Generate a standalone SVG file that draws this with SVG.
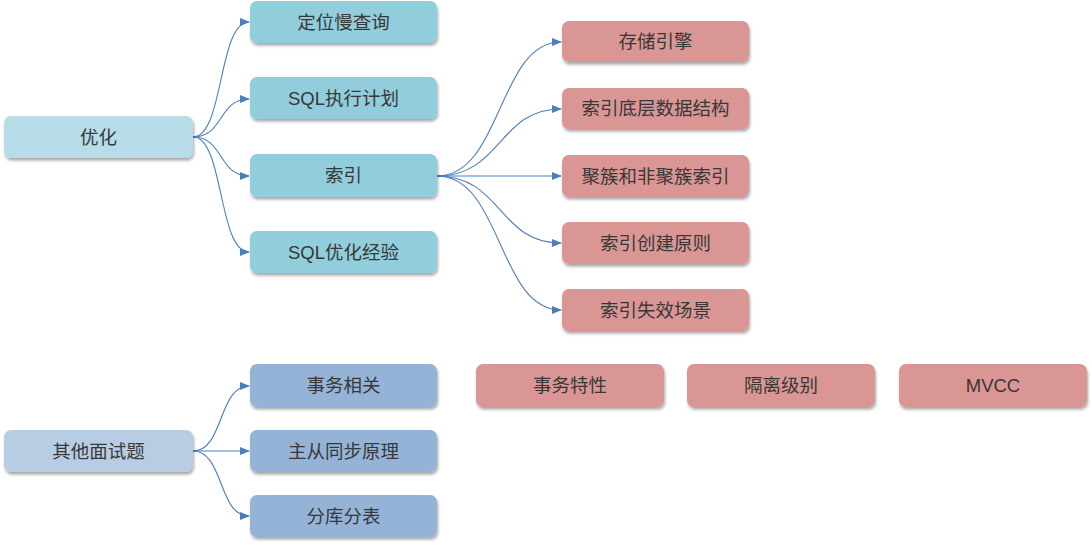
<svg xmlns="http://www.w3.org/2000/svg" width="1092" height="545" viewBox="0 0 1092 545">
<style>
.n{stroke:none;filter:url(#sh)}
.root1{fill:#b6dde8}
.l2{fill:#92cddc}
.red{fill:#d99694}
.root2{fill:#b8cce4}
.l2b{fill:#95b3d7}
text{font-family:"Liberation Sans","Noto Sans CJK SC",sans-serif;font-size:18.5px;fill:#383838;text-anchor:middle;dominant-baseline:central}
.c path{fill:none;stroke:#4a7ebb;stroke-width:1.1;marker-end:url(#ah)}
</style>
<defs>
<filter id="sh" x="-10%" y="-20%" width="120%" height="150%">
<feDropShadow dx="1" dy="2.5" stdDeviation="1.5" flood-color="#000" flood-opacity="0.35"/>
</filter>
<marker id="ah" markerWidth="10" markerHeight="8" refX="9" refY="4" orient="auto" markerUnits="userSpaceOnUse">
<path d="M0,0 L10,4 L0,8 Z" fill="#4a7ebb"/>
</marker>
</defs>
<g class="c" id="connectors">
<path d="M193,137 C224,137 218,22 249,22"/>
<path d="M193,137 C224,137 218,99 249,99"/>
<path d="M193,137 C224,137 218,176 249,176"/>
<path d="M193,137 C224,137 218,252 249,252"/>
<path d="M437,176 C502,176 498,42 561,42"/>
<path d="M437,176 C502,176 498,109 561,109"/>
<path d="M437,176 L561,176"/>
<path d="M437,176 C502,176 498,243 561,243"/>
<path d="M437,176 C502,176 498,310 561,310"/>
<path d="M193,451 C224,451 218,386 249,386"/>
<path d="M193,451 L249,451"/>
<path d="M193,451 C224,451 218,516 249,516"/>
</g>
<g id="n-youhua"><rect class="n root1" x="4" y="116" width="189" height="42" rx="7"/><text x="98.5" y="137">优化</text></g>
<g id="n-dingwei"><rect class="n l2" x="250" y="1" width="187" height="42" rx="7"/><text x="343.5" y="22">定位慢查询</text></g>
<g id="n-sqlplan"><rect class="n l2" x="250" y="77" width="187" height="42" rx="7"/><text x="343.5" y="98">SQL执行计划</text></g>
<g id="n-suoyin"><rect class="n l2" x="250" y="154" width="187" height="43" rx="7"/><text x="343.5" y="175.5">索引</text></g>
<g id="n-sqlopt"><rect class="n l2" x="250" y="231" width="187" height="42" rx="7"/><text x="343.5" y="252">SQL优化经验</text></g>
<g id="n-engine"><rect class="n red" x="562" y="21" width="187" height="41" rx="7"/><text x="655.5" y="41.5">存储引擎</text></g>
<g id="n-struct"><rect class="n red" x="562" y="88" width="187" height="41" rx="7"/><text x="655.5" y="108.5">索引底层数据结构</text></g>
<g id="n-cluster"><rect class="n red" x="562" y="155" width="187" height="42" rx="7"/><text x="655.5" y="176">聚簇和非聚簇索引</text></g>
<g id="n-create"><rect class="n red" x="562" y="222" width="187" height="42" rx="7"/><text x="655.5" y="243">索引创建原则</text></g>
<g id="n-invalid"><rect class="n red" x="562" y="289" width="187" height="42" rx="7"/><text x="655.5" y="310">索引失效场景</text></g>
<g id="n-other"><rect class="n root2" x="4" y="430" width="189" height="42" rx="7"/><text x="98.5" y="451">其他面试题</text></g>
<g id="n-tx"><rect class="n l2b" x="250" y="364" width="187" height="43" rx="7"/><text x="343.5" y="385.5">事务相关</text></g>
<g id="n-repl"><rect class="n l2b" x="250" y="430" width="187" height="42" rx="7"/><text x="343.5" y="451">主从同步原理</text></g>
<g id="n-shard"><rect class="n l2b" x="250" y="495" width="187" height="42" rx="7"/><text x="343.5" y="516">分库分表</text></g>
<g id="n-acid"><rect class="n red" x="476" y="364" width="188" height="43" rx="7"/><text x="570" y="385.5">事务特性</text></g>
<g id="n-iso"><rect class="n red" x="687" y="364" width="188" height="43" rx="7"/><text x="781" y="385.5">隔离级别</text></g>
<g id="n-mvcc"><rect class="n red" x="899" y="364" width="188" height="43" rx="7"/><text x="993" y="385.5">MVCC</text></g>
</svg>
